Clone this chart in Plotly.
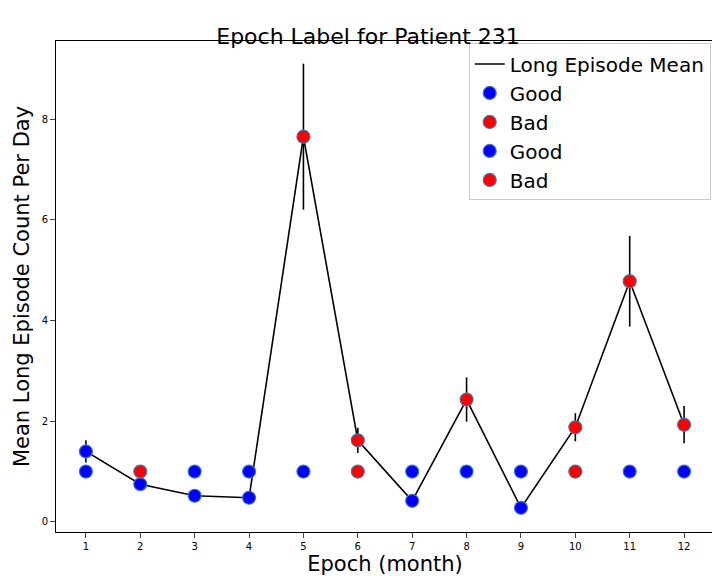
import plotly.graph_objects as go

epochs = list(range(1, 13))
mean_count = [1.40, 0.75, 0.52, 0.48, 7.65, 1.62, 0.42, 2.43, 0.28, 1.88, 4.78, 1.93]
mean_err = [0.22, 0.05, 0.04, 0.04, 1.45, 0.25, 0.05, 0.44, 0.04, 0.28, 0.90, 0.37]
mean_label = ["Good", "Good", "Good", "Good", "Bad", "Bad", "Good", "Bad", "Good", "Bad", "Bad", "Bad"]
label_level = [1] * 12
level_label = ["Good", "Bad", "Good", "Good", "Good", "Bad", "Good", "Good", "Good", "Bad", "Good", "Good"]

colors = {"Good": "blue", "Bad": "red"}

fig = go.Figure()
fig.add_trace(go.Scatter(x=epochs, y=mean_count, mode="lines", line=dict(color="black", width=1.6),
                         name="Long Episode Mean"))


def add_points(xs, ys, labs, lab, err=None):
    sel = [i for i, l in enumerate(labs) if l == lab]
    fig.add_trace(go.Scatter(
        x=[xs[i] for i in sel], y=[ys[i] for i in sel], mode="markers", name=lab,
        marker=dict(color=colors[lab], size=13, line=dict(color="#3a78b0", width=1.2)),
        error_y=dict(type="data", array=[err[i] for i in sel], color="black", thickness=1.6, width=0)
        if err else None))


add_points(epochs, mean_count, mean_label, "Good", mean_err)
add_points(epochs, mean_count, mean_label, "Bad", mean_err)
add_points(epochs, label_level, level_label, "Good")
add_points(epochs, label_level, level_label, "Bad")

fig.update_layout(
    width=720, height=576, plot_bgcolor="white", paper_bgcolor="white",
    font=dict(family="DejaVu Sans", color="black"),
    title=dict(text="Epoch Label for Patient 231", x=0.5, xanchor="center", y=0.965, font=dict(size=22)),
    margin=dict(l=48, r=14, t=33, b=52, autoexpand=False),
    legend=dict(x=0.995, y=0.995, xanchor="right", yanchor="top", font=dict(size=20),
                bordercolor="#cccccc", borderwidth=1, bgcolor="rgba(255,255,255,0.85)"),
    xaxis=dict(range=[0.45, 12.55], tickvals=epochs, showgrid=False, showline=True, mirror=True,
               linecolor="black", ticks="outside", tickfont=dict(size=10), automargin=False,
               title=dict(text="Epoch (month)", font=dict(size=21), standoff=4), zeroline=False),
    yaxis=dict(range=[-0.2, 9.55], tickvals=[0, 2, 4, 6, 8], showgrid=False, showline=True, mirror=True,
               linecolor="black", ticks="outside", tickfont=dict(size=10), automargin=False,
               title=dict(text="Mean Long Episode Count Per Day", font=dict(size=21), standoff=6),
               zeroline=False),
)

fig.write_html("out.html")
